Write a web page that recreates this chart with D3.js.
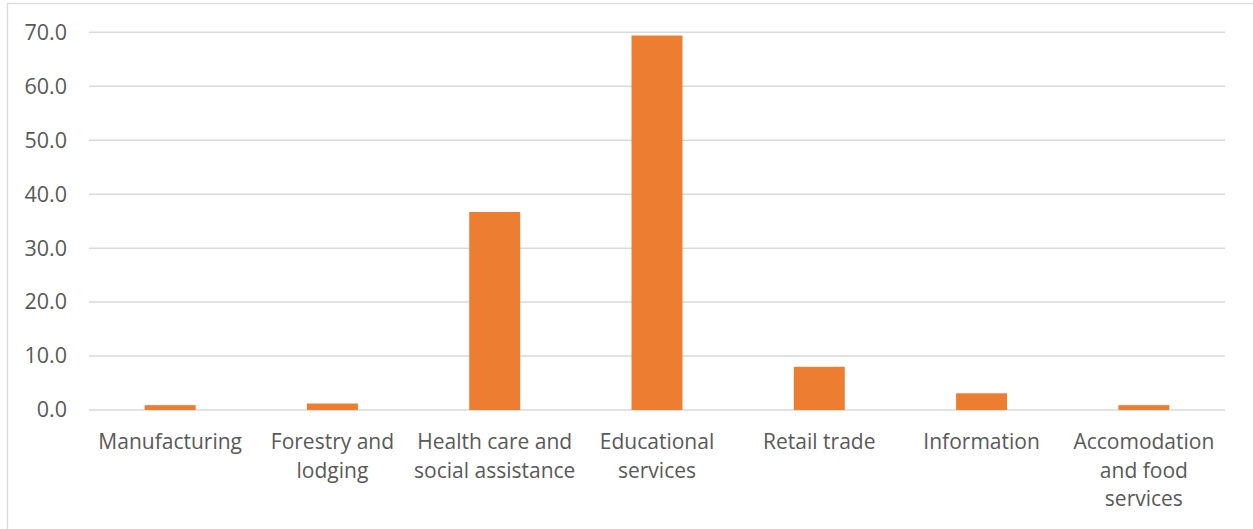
<!DOCTYPE html>
<html>
<head>
<meta charset="utf-8">
<script src="https://cdn.jsdelivr.net/npm/d3@7"></script>
<style>
  body { margin: 0; background: #fff; }
  text { font-family: "Open Sans", sans-serif; fill: #595959; }
</style>
</head>
<body>
<div id="chart"></div>
<script>
// Chart data
var categories = ["Manufacturing", "Forestry and\nlodging", "Health care and\nsocial assistance",
  "Educational\nservices", "Retail trade", "Information", "Accomodation\nand food\nservices"];
var values = [0.9, 1.2, 36.7, 69.4, 8.0, 3.1, 0.9];
var yTicks = [0, 10, 20, 30, 40, 50, 60, 70];

var svgWidth = 1253;
var svgHeight = 529;

var margin = { top: 32.3, right: 28, bottom: 119, left: 89 };
var width = svgWidth - margin.left - margin.right;
var height = svgHeight - margin.top - margin.bottom;

var svg = d3.select("#chart")
  .append("svg")
  .attr("width", svgWidth)
  .attr("height", svgHeight);

// outer chart border
svg.append("rect")
  .attr("x", 7.5)
  .attr("y", 3.5)
  .attr("width", svgWidth)
  .attr("height", svgHeight)
  .attr("fill", "none")
  .attr("stroke", "#d9d9d9")
  .attr("stroke-width", 1.3);

var chartGroup = svg.append("g")
  .attr("transform", `translate(${margin.left}, ${margin.top})`);

var xScale = d3.scaleBand()
  .domain(categories)
  .range([0, width])
  .paddingInner(0.686)
  .paddingOuter(0.343);

var yScale = d3.scaleLinear()
  .domain([0, 70])
  .range([height, 0]);

// gridlines
chartGroup.selectAll(".grid")
  .data(yTicks)
  .enter()
  .append("line")
  .attr("x1", 0)
  .attr("x2", width)
  .attr("y1", d => yScale(d))
  .attr("y2", d => yScale(d))
  .attr("stroke", "#d9d9d9")
  .attr("stroke-width", 1.5);

// y axis labels
var leftAxis = d3.axisLeft(yScale)
  .tickValues(yTicks)
  .tickFormat(d3.format(".1f"))
  .tickSize(0)
  .tickPadding(22);

var yAxis = chartGroup.append("g").call(leftAxis);
yAxis.select(".domain").remove();
yAxis.selectAll("text")
  .style("font-size", "21.5px")
  .style("fill", "#595959")
  .style("font-family", "Open Sans, sans-serif");

// bars
chartGroup.selectAll(".bar")
  .data(values)
  .enter()
  .append("rect")
  .attr("x", (d, i) => xScale(categories[i]))
  .attr("y", d => yScale(d))
  .attr("width", xScale.bandwidth())
  .attr("height", d => height - yScale(d))
  .attr("fill", "#ed7d31");

// x axis labels, multi-line
var bottomAxis = d3.axisBottom(xScale).tickSize(0).tickFormat("");
var xAxis = chartGroup.append("g")
  .attr("transform", `translate(0, ${height})`)
  .call(bottomAxis);
xAxis.select(".domain").remove();

xAxis.selectAll(".tick")
  .append("text")
  .attr("text-anchor", "middle")
  .style("font-size", "21px")
  .each(function(d) {
    var lines = d.split("\n");
    var t = d3.select(this);
    lines.forEach(function(line, j) {
      t.append("tspan")
        .attr("x", 0)
        .attr("y", 39 + j * 28.6)
        .text(line);
    });
  });
</script>
</body>
</html>
